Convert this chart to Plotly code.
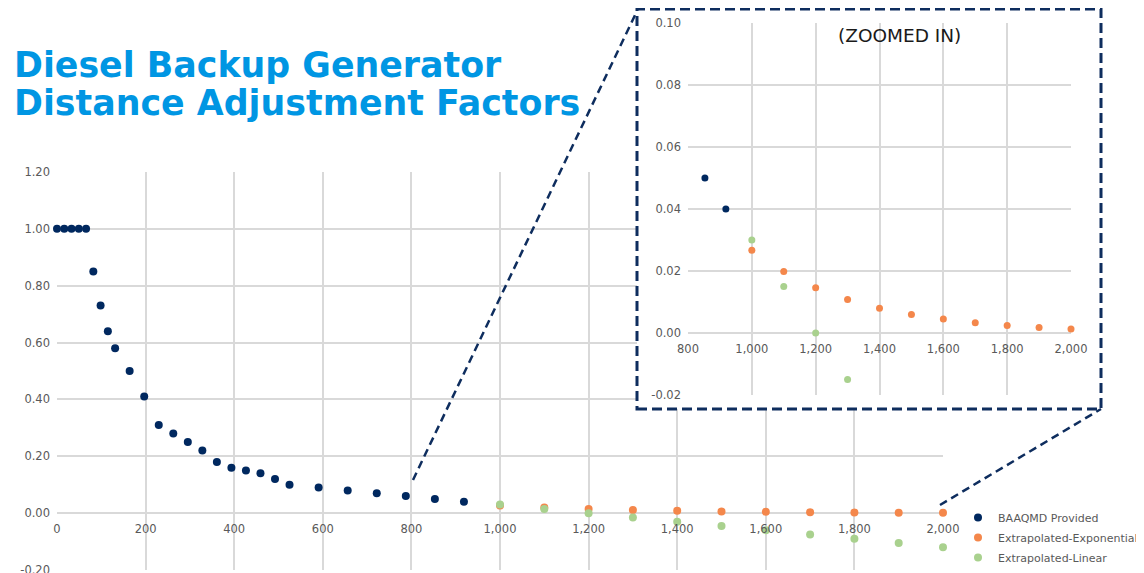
import numpy as np
import plotly.graph_objects as go

W, H = 1144, 573
OFF = 8  # page body margin offset (screen px = figure px + OFF)

# ---------------- data ----------------
baaqmd_x = [0, 16.4, 32.8, 49.2, 65.6, 82.0, 98.4, 114.8, 131.2, 164.0, 196.9, 229.7,
            262.5, 295.3, 328.1, 360.9, 393.7, 426.5, 459.3, 492.1, 524.9, 590.6,
            656.2, 721.8, 787.4, 853.0, 918.6]
baaqmd_y = [1.00, 1.00, 1.00, 1.00, 1.00, 0.85, 0.73, 0.64, 0.58, 0.50, 0.41, 0.31,
            0.28, 0.25, 0.22, 0.18, 0.16, 0.15, 0.14, 0.12, 0.10, 0.09,
            0.08, 0.07, 0.06, 0.05, 0.04]

extrap_x = [1000, 1100, 1200, 1300, 1400, 1500, 1600, 1700, 1800, 1900, 2000]
exp_y = [0.0267, 0.0198, 0.0146, 0.0108, 0.0080, 0.0060, 0.0045, 0.0033, 0.0024, 0.0018, 0.0013]
lin_y = [0.030, 0.015, 0.000, -0.015, -0.030, -0.045, -0.060, -0.075, -0.090, -0.105, -0.120]

series_names = ["BAAQMD Provided", "Extrapolated-Exponential", "Extrapolated-Linear"]

main_x_ticks = [0, 200, 400, 600, 800, 1000, 1200, 1400, 1600, 1800, 2000]
main_x_labels = ["0", "200", "400", "600", "800", "1,000", "1,200", "1,400", "1,600", "1,800", "2,000"]
main_y_ticks = [-0.2, 0.0, 0.2, 0.4, 0.6, 0.8, 1.0, 1.2]
main_y_labels = ["-0.20", "0.00", "0.20", "0.40", "0.60", "0.80", "1.00", "1.20"]

inset_x_ticks = [800, 1000, 1200, 1400, 1600, 1800, 2000]
inset_x_labels = ["800", "1,000", "1,200", "1,400", "1,600", "1,800", "2,000"]
inset_y_ticks = [-0.02, 0.0, 0.02, 0.04, 0.06, 0.08, 0.10]
inset_y_labels = ["-0.02", "0.00", "0.02", "0.04", "0.06", "0.08", "0.10"]

title_lines = ["Diesel Backup Generator", "Distance Adjustment Factors"]
inset_title = "(ZOOMED IN)"

# ---------------- style ----------------
NAVY = "#00285F"
ORANGE = "#F4874B"
GREEN = "#A9D18E"
DASH_COL = "#0E2D5E"
GRID = "#D9D9D9"
TICK_FONT = dict(family="DejaVu Sans", size=11.5, color="#595959")

def fx(px):
    return (px - OFF) / W

def fy(py):
    return 1 - (py - OFF) / H

main_dom_x = [fx(57), fx(943)]
main_dom_y = [fy(570), fy(172)]
main_xr = [0, 2000]
main_yr = [-0.2, 1.2]

inset_dom_x = [fx(688), fx(1071)]
inset_dom_y = [fy(395), fy(23)]
inset_xr = [800, 2000]
inset_yr = [-0.02, 0.10]

box = dict(x0=637, x1=1101, y0=9, y1=409)

main_pos = main_dom_y[0] + (0 - main_yr[0]) / (main_yr[1] - main_yr[0]) * (main_dom_y[1] - main_dom_y[0])
inset_pos = inset_dom_y[0] + (0 - inset_yr[0]) / (inset_yr[1] - inset_yr[0]) * (inset_dom_y[1] - inset_dom_y[0])

fig = go.Figure()

colors = [NAVY, ORANGE, GREEN]
xs = [baaqmd_x, extrap_x, extrap_x]
ys = [baaqmd_y, exp_y, lin_y]
groups = ["g1", "g2", "g3"]

# main chart
for name, c, x, y, g in zip(series_names, colors, xs, ys, groups):
    fig.add_trace(go.Scatter(x=x, y=y, mode="markers", name=name, legendgroup=g,
                             marker=dict(color=c, size=8),
                             cliponaxis=False, xaxis="x", yaxis="y"))

# cover subplot (white box behind inset)
fig.add_trace(go.Scatter(x=[], y=[], xaxis="x2", yaxis="y2", showlegend=False,
                         hoverinfo="skip"))

# inset chart: only points inside the zoomed window
for name, c, x, y, g in zip(series_names, colors, xs, ys, groups):
    xa = np.array(x, dtype=float)
    ya = np.array(y, dtype=float)
    m = (xa >= inset_xr[0]) & (xa <= inset_xr[1]) & (ya >= inset_yr[0]) & (ya <= inset_yr[1])
    fig.add_trace(go.Scatter(x=xa[m], y=ya[m], mode="markers", name=name, legendgroup=g,
                             marker=dict(color=c, size=7), showlegend=False,
                             cliponaxis=False, xaxis="x3", yaxis="y3"))

axis_common = dict(showgrid=True, gridcolor=GRID, gridwidth=1.5, zeroline=False,
                   showline=False, ticks="", tickfont=TICK_FONT, fixedrange=True,
                   automargin=False)

shapes = [
    # white cover for the zoom box (drawn in cover subplot, below inset)
    dict(type="rect", xref="x2", yref="y2", x0=0, x1=1, y0=0, y1=1,
         fillcolor="white", line=dict(width=0), layer="below"),
    # dashed border
    dict(type="rect", xref="paper", yref="paper",
         x0=fx(box["x0"]), x1=fx(box["x1"]), y0=fy(box["y1"]), y1=fy(box["y0"]),
         line=dict(color=DASH_COL, width=3, dash="10px,5px"), layer="above"),
    # connectors
    dict(type="line", xref="paper", yref="paper",
         x0=fx(413), y0=fy(480), x1=fx(box["x0"]), y1=fy(box["y0"] + 2),
         line=dict(color=DASH_COL, width=2.5, dash="8px,5px"), layer="above"),
    dict(type="line", xref="paper", yref="paper",
         x0=fx(940), y0=fy(505), x1=fx(box["x1"]), y1=fy(box["y1"]),
         line=dict(color=DASH_COL, width=2.5, dash="8px,5px"), layer="above"),
]

TITLE_FONT = dict(family="DejaVu Sans", size=34.8, color="#0096E3", weight="bold")
annotations = [
    dict(text=title_lines[0], xref="paper", yref="paper", x=fx(12), y=fy(65),
         xanchor="left", yanchor="middle", showarrow=False, font=TITLE_FONT),
    dict(text=title_lines[1], xref="paper", yref="paper", x=fx(12), y=fy(103),
         xanchor="left", yanchor="middle", showarrow=False, font=TITLE_FONT),
    dict(text=inset_title, xref="paper", yref="paper", x=fx(899), y=fy(36),
         xanchor="center", yanchor="middle", showarrow=False,
         font=dict(family="DejaVu Sans", size=18.5, color="#1A1A1A")),
]

fig.update_layout(
    width=W, height=H, autosize=False,
    margin=dict(l=0, r=0, t=0, b=0, pad=0, autoexpand=False),
    paper_bgcolor="white", plot_bgcolor="white",
    showlegend=True,
    legend=dict(x=fx(958), y=fy(503), xanchor="left", yanchor="top",
                font=dict(family="DejaVu Sans", size=11, color="#595959"),
                bgcolor="rgba(0,0,0,0)", itemwidth=30, tracegroupgap=1,
                traceorder="grouped"),
    xaxis=dict(domain=main_dom_x, range=main_xr, anchor="free", position=main_pos,
               tickvals=main_x_ticks, ticktext=main_x_labels, ticklabelstandoff=7,
               **axis_common),
    yaxis=dict(domain=main_dom_y, range=main_yr, anchor="x",
               tickvals=main_y_ticks, ticktext=main_y_labels, ticklabelstandoff=6,
               **axis_common),
    xaxis2=dict(domain=[fx(box["x0"]), fx(box["x1"])], range=[0, 1], anchor="y2",
                visible=False, fixedrange=True, automargin=False),
    yaxis2=dict(domain=[fy(box["y1"]), fy(box["y0"])], range=[0, 1], anchor="x2",
                visible=False, fixedrange=True, automargin=False),
    xaxis3=dict(domain=inset_dom_x, range=inset_xr, anchor="free", position=inset_pos,
                tickvals=inset_x_ticks, ticktext=inset_x_labels, ticklabelstandoff=7,
                **axis_common),
    yaxis3=dict(domain=inset_dom_y, range=inset_yr, anchor="x3",
                tickvals=inset_y_ticks, ticktext=inset_y_labels, ticklabelstandoff=6,
                **axis_common),
    shapes=shapes,
    annotations=annotations,
)

fig.write_html("out.html")
